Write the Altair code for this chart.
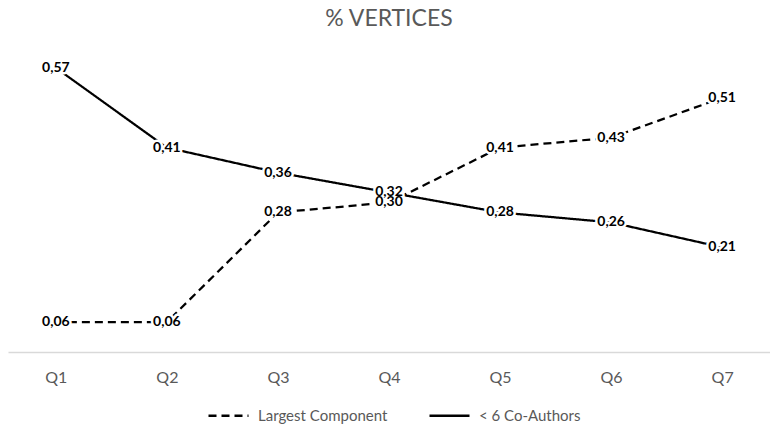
import altair as alt
import pandas as pd

quarters = ["Q1", "Q2", "Q3", "Q4", "Q5", "Q6", "Q7"]
largest_component = [0.06, 0.06, 0.28, 0.30, 0.41, 0.43, 0.51]
under6_coauthors = [0.57, 0.41, 0.36, 0.32, 0.28, 0.26, 0.21]
series_names = ["Largest Component", "< 6 Co-Authors"]

rows = []
for q, a, b in zip(quarters, largest_component, under6_coauthors):
    rows.append({"q": q, "series": series_names[0], "v": a})
    rows.append({"q": q, "series": series_names[1], "v": b})
df = pd.DataFrame(rows)

FONT = "Lato"
GREY = "#595959"

x = alt.X(
    "q:N",
    sort=quarters,
    scale=alt.Scale(type="point", padding=0.431),
    axis=alt.Axis(
        title=None, labelAngle=0, ticks=False, grid=False,
        domainColor="#d9d9d9", domainWidth=1.5,
        labelColor=GREY, labelFontSize=16, labelFont=FONT, labelPadding=17,
    ),
)
y = alt.Y("v:Q", scale=alt.Scale(domain=[0, 0.65]), axis=None)

base = alt.Chart(df).transform_calculate(
    label="replace(format(datum.v, '.2f'), '.', ',')"
)

lines = base.mark_line(color="black", strokeWidth=2.25).encode(
    x=x,
    y=y,
    detail="series:N",
    strokeDash=alt.StrokeDash(
        "series:N",
        scale=alt.Scale(domain=series_names, range=[[8, 5], [1, 0]]),
        legend=alt.Legend(
            title=None,
            orient="none",
            direction="horizontal",
            legendX=199,
            legendY=366,
            symbolType="stroke",
            symbolSize=1600,
            symbolStrokeWidth=2.5,
            symbolStrokeColor="black",
            labelFont=FONT,
            labelFontSize=15,
            labelColor=GREY,
            labelOffset=8,
            columnPadding=36,
        ),
    ),
)

halo = base.mark_text(
    fontWeight="bold", fontSize=14, font=FONT, color="white",
    stroke="white", strokeWidth=5,
).encode(x=x, y=y, text="label:N")

labels = base.mark_text(
    fontWeight="bold", fontSize=14, font=FONT, color="black",
).encode(x=x, y=y, text="label:N")

chart = (
    alt.layer(lines, halo, labels)
    .properties(
        width=762,
        height=324,
        padding=0,
        title=alt.Title(
            "% VERTICES", fontSize=23, color=GREY, font=FONT,
            fontWeight="normal", offset=-3,
        ),
    )
    .configure_view(stroke=None)
)

chart.save("out.html", embed_options={"renderer": "svg", "actions": False})
